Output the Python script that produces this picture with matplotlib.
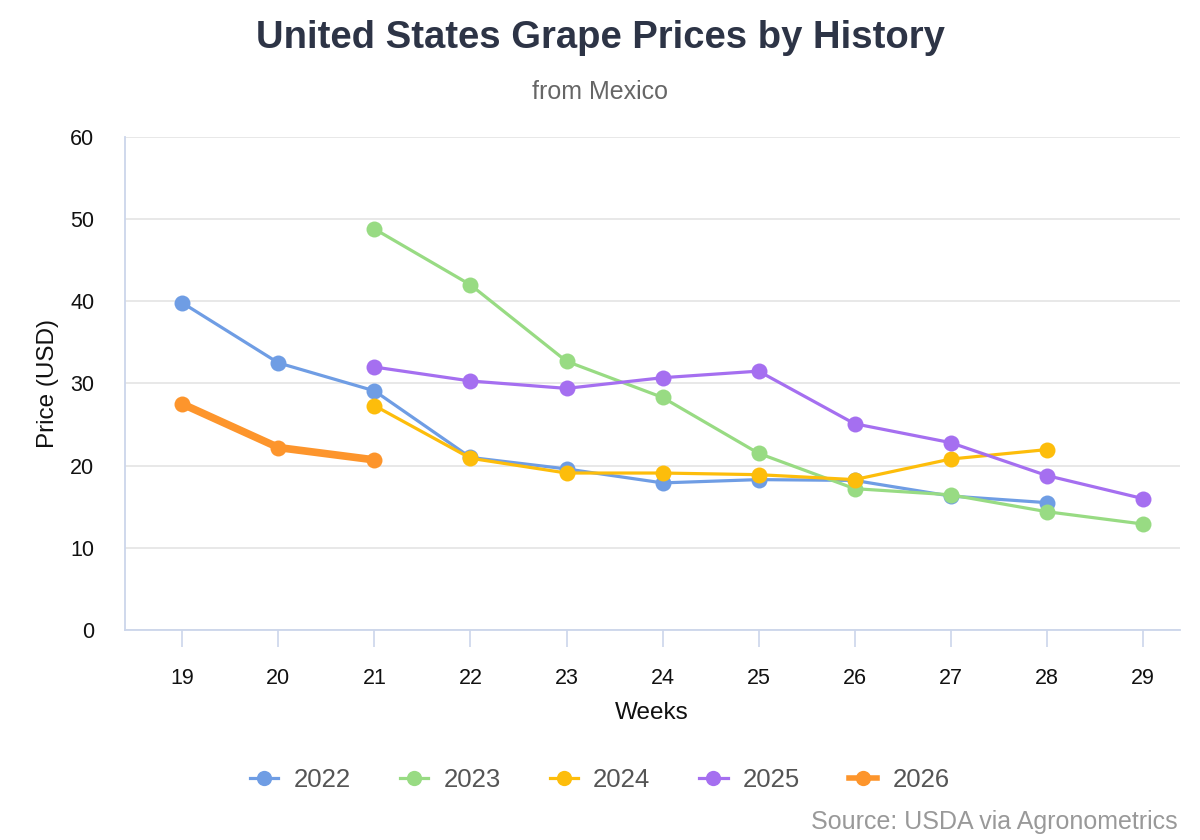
import numpy as np
import matplotlib
matplotlib.use("Agg")
import matplotlib.pyplot as plt
from matplotlib.lines import Line2D

plt.rcParams['font.family'] = ['Liberation Sans', 'DejaVu Sans']

nan = np.nan
weeks = [19, 20, 21, 22, 23, 24, 25, 26, 27, 28, 29]
years = ["2022", "2023", "2024", "2025", "2026"]

prices_2022 = [39.8, 32.5, 29.1, 21.0, 19.6, 17.9, 18.3, 18.2, 16.3, 15.5, nan]
prices_2023 = [nan, nan, 48.8, 42.0, 32.7, 28.3, 21.5, 17.2, 16.45, 14.4, 12.9]
prices_2024 = [nan, nan, 27.3, 20.9, 19.1, 19.1, 18.9, 18.3, 20.8, 21.95, nan]
prices_2025 = [nan, nan, 32.0, 30.3, 29.4, 30.7, 31.5, 25.1, 22.8, 18.8, 16.0]
prices_2026 = [27.5, 22.2, 20.7, nan, nan, nan, nan, nan, nan, nan, nan]

series = [prices_2022, prices_2023, prices_2024, prices_2025, prices_2026]
colors = ["#6f9de4", "#98db83", "#fdbd0b", "#a56ff0", "#fd952c"]
widths = [2.3, 2.3, 2.3, 2.3, 5.5]

fig = plt.figure(figsize=(12, 8.4), dpi=100)
ax = fig.add_axes([0.104, 0.25, 0.879, 0.587])

for vals, col, lw in zip(series, colors, widths):
    ax.plot(weeks, vals, color=col, lw=lw, marker='o', markersize=11.5,
            markeredgewidth=0, solid_capstyle='round', zorder=3)

ax.set_xlim(18.4, 29.385)
ax.set_ylim(0, 60)
ax.set_xticks(weeks)
ax.set_yticks(range(0, 61, 10))
ax.grid(axis='y', color='#e6e6e6', lw=1.3)
ax.set_axisbelow(True)

for s in ['top', 'right']:
    ax.spines[s].set_visible(False)
for s in ['left', 'bottom']:
    ax.spines[s].set_color('#ccd6eb')
    ax.spines[s].set_linewidth(1.3)

ax.tick_params(axis='y', length=0, pad=22, labelsize=15.5, labelcolor='#111111')
ax.tick_params(axis='x', length=12, width=1.2, color='#ccd6eb', pad=15,
               labelsize=15.5, labelcolor='#111111')

ax.set_xlabel("Weeks", fontsize=17.5, color='#111111', labelpad=10)
ax.set_ylabel("Price (USD)", fontsize=17.5, color='#111111', labelpad=8)

fig.text(0.5, 0.955, "United States Grape Prices by History", ha='center', va='center',
         fontsize=27.5, fontweight='bold', color='#2d3446')
fig.text(0.5, 0.890, "from Mexico", ha='center', va='center', fontsize=18, color='#666666')

handles = [Line2D([0], [0], color=c, lw=2.3 if y != "2026" else 4, marker='o', markersize=11,
                  markeredgewidth=0) for c, y in zip(colors, years)]
leg = fig.legend(handles, years, loc='center', bbox_to_anchor=(0.5, 0.071), ncol=5,
                 frameon=False, fontsize=18.5, handlelength=1.1, handletextpad=0.6,
                 columnspacing=1.9)
for t in leg.get_texts():
    t.set_color('#555555')

fig.text(0.981, 0.021, "Source: USDA via Agronometrics", ha='right', va='center',
         fontsize=18, color='#999999')

fig.savefig("out.png", dpi=100)
